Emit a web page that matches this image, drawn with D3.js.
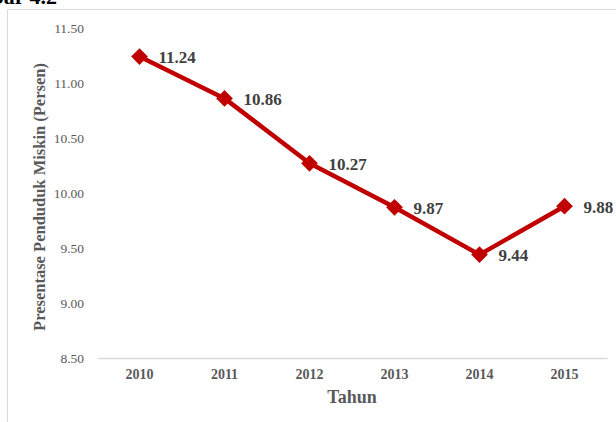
<!DOCTYPE html>
<html>
<head>
<meta charset="utf-8">
<script src="https://cdn.jsdelivr.net/npm/d3@7"></script>
<style>
  body { margin: 0; background: #fff; }
  svg text { font-family: "Liberation Serif", "Times New Roman", serif; }
</style>
</head>
<body>
<div id="chart"></div>
<script>
// data
const years = ['2010', '2011', '2012', '2013', '2014', '2015'];
const persen = [11.24, 10.86, 10.27, 9.87, 9.44, 9.88];
const yTicks = [8.5, 9.0, 9.5, 10.0, 10.5, 11.0, 11.5];

const width = 616;
const height = 422;

const svg = d3.select("#chart")
    .append("svg")
    .attr("width", width)
    .attr("height", height);

// cut-off caption above the chart box
svg.append("text")
    .attr("x", 57)
    .attr("y", 4)
    .attr("text-anchor", "end")
    .style("font-size", "22px")
    .style("font-weight", "bold")
    .attr("fill", "#000")
    .text("Gambar  4.2");

// chart area border
svg.append("rect")
    .attr("x", 7.5)
    .attr("y", 9.5)
    .attr("width", 640)
    .attr("height", 440)
    .attr("fill", "#fff")
    .attr("stroke", "#d9d9d9");

const x = d3.scaleBand()
    .domain(years)
    .range([97, 607]);

const y = d3.scaleLinear()
    .domain([8.5, 11.5])
    .range([358, 28]);

// y tick labels (no gridlines)
const yAxis = svg.append("g")
    .attr("transform", "translate(84,0)")
    .call(d3.axisLeft(y).tickValues(yTicks).tickFormat(d3.format(".2f")).tickSize(0).tickPadding(0));
yAxis.select(".domain").remove();
yAxis.selectAll("text")
    .style("font-family", "'Liberation Serif', serif")
    .style("font-size", "13.5px")
    .attr("fill", "#595959");

// x axis
const xAxis = svg.append("g")
    .attr("transform", `translate(0,${y(8.5)})`)
    .call(d3.axisBottom(x).tickSize(0).tickPadding(11));
xAxis.select(".domain")
    .attr("stroke", "#d9d9d9")
    .attr("stroke-width", 1.3);
xAxis.selectAll("text")
    .style("font-family", "'Liberation Serif', serif")
    .style("font-size", "14px")
    .style("font-weight", "bold")
    .attr("fill", "#595959");

// axis titles
svg.append("text")
    .attr("x", (97 + 607) / 2)
    .attr("y", 403)
    .attr("text-anchor", "middle")
    .style("font-size", "18px")
    .style("font-weight", "bold")
    .attr("fill", "#595959")
    .text("Tahun");

svg.append("text")
    .attr("transform", `translate(39,${(28 + 358) / 2 + 4}) rotate(-90)`)
    .attr("text-anchor", "middle")
    .attr("dominant-baseline", "central")
    .style("font-size", "16.5px")
    .style("font-weight", "bold")
    .attr("fill", "#595959")
    .text("Presentase Penduduk Miskin (Persen)");

const points = years.map((yr, i) => ({ year: yr, value: persen[i] }));
const cx = d => x(d.year) + x.bandwidth() / 2;

// the line
const line = d3.line()
    .x(cx)
    .y(d => y(d.value));

svg.append("path")
    .datum(points)
    .attr("fill", "none")
    .attr("stroke", "#c00000")
    .attr("stroke-width", 4.5)
    .attr("stroke-linejoin", "round")
    .attr("d", line);

// diamond markers
const diamond = d3.symbol().type(d3.symbolSquare).size(140);
svg.selectAll(".marker")
    .data(points)
    .enter().append("path")
    .attr("class", "marker")
    .attr("d", diamond)
    .attr("fill", "#c00000")
    .attr("transform", d => `translate(${cx(d)},${y(d.value)}) rotate(45)`);

// value labels
svg.selectAll(".label")
    .data(points)
    .enter().append("text")
    .attr("class", "label")
    .attr("x", d => cx(d) + 19)
    .attr("y", d => y(d.value) + 1)
    .attr("dominant-baseline", "central")
    .style("font-size", "17px")
    .style("font-weight", "bold")
    .attr("fill", "#404040")
    .text(d => d3.format(".2f")(d.value));
</script>
</body>
</html>
